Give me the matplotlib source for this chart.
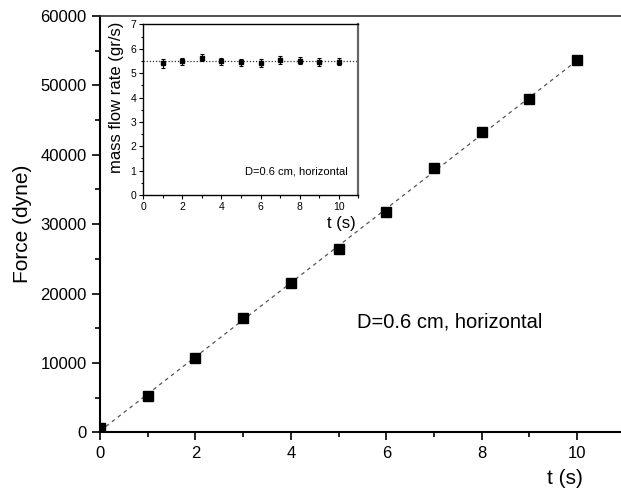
import numpy as np
import matplotlib
matplotlib.use("Agg")
import matplotlib.pyplot as plt
from matplotlib.ticker import MultipleLocator

plt.rcParams['font.family'] = ['Liberation Sans', 'DejaVu Sans']

t_main = [0, 1, 2, 3, 4, 5, 6, 7, 8, 9, 10]
force = [600, 5240, 10680, 16540, 21500, 26450, 31750, 38100, 43290, 48050, 53620]

t_in = [1, 2, 3, 4, 5, 6, 7, 8, 9, 10]
mfr = [5.40, 5.49, 5.64, 5.49, 5.44, 5.42, 5.53, 5.51, 5.46, 5.47]
mfr_err = [0.17, 0.15, 0.15, 0.15, 0.15, 0.15, 0.17, 0.15, 0.15, 0.15]

label_text = "D=0.6 cm, horizontal"

fig = plt.figure(figsize=(6.21, 4.93), dpi=100)
ax = fig.add_axes([0.161, 0.123, 0.839, 0.8445])

coef = np.polyfit(t_main, force, 1)
xf = np.array([0, 10])
ax.plot(xf, np.polyval(coef, xf), ls=(0, (3, 3)), color='#555555', lw=0.9, zorder=2)
ax.plot(t_main, force, 's', color='black', ms=7.5, zorder=3)

ax.set_xlim(0, 10.92)
ax.set_ylim(0, 60000)
ax.xaxis.set_major_locator(MultipleLocator(2))
ax.xaxis.set_minor_locator(MultipleLocator(1))
ax.yaxis.set_major_locator(MultipleLocator(10000))
ax.yaxis.set_minor_locator(MultipleLocator(5000))
ax.tick_params(which='both', direction='out', labelsize=12, width=1.2)
ax.tick_params(which='major', length=6)
ax.tick_params(which='minor', length=3.5)
ax.spines['right'].set_visible(False)
ax.spines['left'].set_linewidth(1.5)
ax.spines['bottom'].set_linewidth(1.5)
ax.spines['top'].set_linewidth(1.2)
ax.spines['top'].set_color('#333333')
ax.set_ylabel("Force (dyne)", fontsize=15, labelpad=6)
fig.text(0.91, 0.03, "t (s)", fontsize=15, ha='center', va='center')
ax.text(0.493, 0.265, label_text, transform=ax.transAxes, fontsize=14.5,
        ha='left', va='center')

ins = fig.add_axes([0.2308, 0.6045, 0.346, 0.346])
ins.axhline(np.mean(mfr), ls=(0, (1, 1.5)), color='#333333', lw=0.9, zorder=1)
ins.errorbar(t_in, mfr, yerr=mfr_err, fmt='s', color='black', ms=3.2,
             elinewidth=0.8, capsize=1.5, capthick=0.8, zorder=3)
ins.set_xlim(0, 11)
ins.set_ylim(0, 7)
ins.xaxis.set_major_locator(MultipleLocator(2))
ins.xaxis.set_minor_locator(MultipleLocator(1))
ins.yaxis.set_major_locator(MultipleLocator(1))
ins.yaxis.set_minor_locator(MultipleLocator(0.5))
ins.tick_params(which='both', direction='out', labelsize=7.5, width=0.8, pad=2)
ins.tick_params(which='major', length=3)
ins.tick_params(which='minor', length=1.8)
for s in ins.spines.values():
    s.set_linewidth(1.0)
ins.spines['right'].set_color('#666666')
ins.spines['right'].set_linewidth(1.6)
ins.set_ylabel("mass flow rate (gr/s)", fontsize=12)
ins.yaxis.set_label_coords(-0.09, 0.57)
ins.text(0.92, -0.17, "t (s)", transform=ins.transAxes, fontsize=12,
         ha='center', va='center')
ins.text(0.95, 0.135, label_text, transform=ins.transAxes, fontsize=8,
         ha='right', va='center')

fig.savefig("out.png", dpi=100)
